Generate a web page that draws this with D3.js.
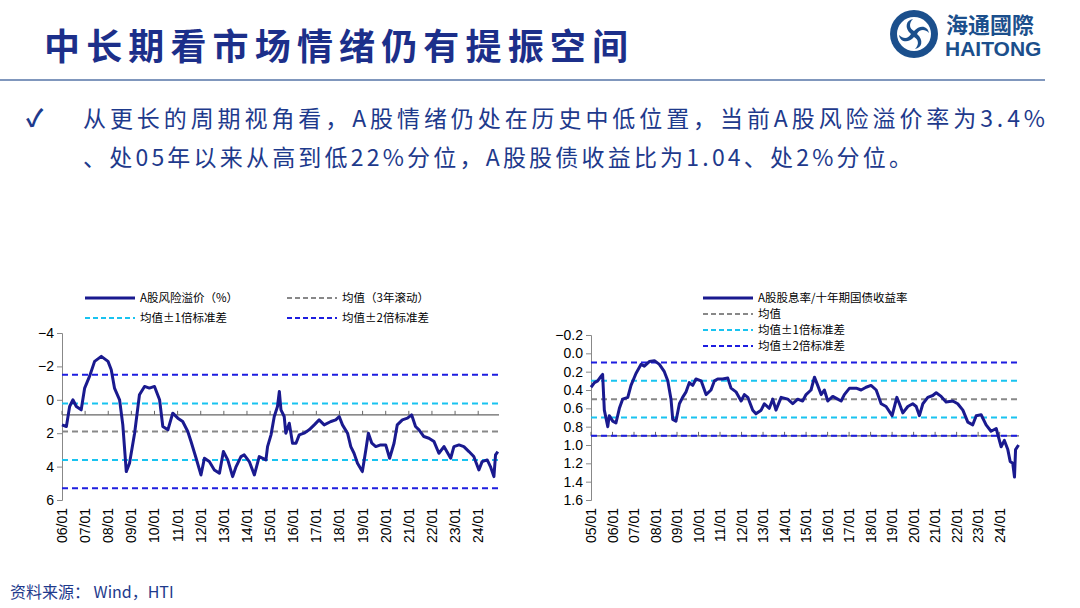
<!DOCTYPE html>
<html><head><meta charset="utf-8">
<script src="https://cdn.jsdelivr.net/npm/d3@7"></script>
<style>body{margin:0;background:#fff;font-family:"Noto Sans CJK SC",sans-serif}</style>
</head><body><svg id="c" width="1080" height="608"></svg>
<script>
const leftYears=[2006.00,2006.19,2006.33,2006.47,2006.62,2006.83,2006.98,2007.19,2007.41,2007.70,2007.99,2008.13,2008.27,2008.49,2008.63,2008.78,2008.92,2009.14,2009.35,2009.57,2009.78,2010.00,2010.22,2010.36,2010.58,2010.79,2011.01,2011.22,2011.44,2011.58,2011.80,2012.01,2012.16,2012.37,2012.59,2012.81,2012.98,2013.17,2013.38,2013.53,2013.74,2013.88,2014.10,2014.32,2014.53,2014.82,2014.89,2015.04,2015.18,2015.32,2015.40,2015.47,2015.61,2015.68,2015.83,2015.97,2016.12,2016.26,2016.47,2016.69,2016.91,2017.12,2017.34,2017.63,2017.84,2017.99,2018.13,2018.35,2018.49,2018.63,2018.78,2018.99,2019.14,2019.25,2019.40,2019.57,2019.78,2020.00,2020.17,2020.36,2020.50,2020.72,2020.94,2021.12,2021.29,2021.44,2021.65,2021.87,2022.09,2022.30,2022.52,2022.81,2022.95,2023.17,2023.38,2023.60,2023.81,2024.03,2024.17,2024.39,2024.53,2024.68,2024.75,2024.85];
const leftValues=[1.5,1.6,0.4,0.0,0.4,0.6,-0.7,-1.4,-2.3,-2.6,-2.3,-1.8,-0.7,0.0,1.5,4.3,3.8,2.0,-0.3,-0.8,-0.7,-0.8,0.0,1.6,1.8,0.8,1.1,1.3,1.9,2.5,3.5,4.5,3.5,3.7,4.2,4.4,3.1,3.6,4.6,4.0,3.4,3.3,3.7,4.5,3.4,3.6,2.8,2.1,1.0,0.4,-0.5,0.6,1.0,2.0,1.4,2.6,2.6,2.1,2.0,1.8,1.5,1.2,1.5,1.3,1.2,1.0,1.5,2.0,2.8,3.2,3.8,4.3,3.0,2.0,2.6,2.8,2.7,2.7,3.5,2.6,1.5,1.2,1.1,0.9,1.6,1.8,2.2,2.3,2.5,3.2,2.8,3.5,2.8,2.7,2.8,3.1,3.4,4.2,3.7,3.6,4.0,4.6,3.3,3.1];
const leftBands={mean:1.9,s1:[0.22,3.6],s2:[-1.5,5.3]};
const leftTicks=["06/01","07/01","08/01","09/01","10/01","11/01","12/01","13/01","14/01","15/01","16/01","17/01","18/01","19/01","20/01","21/01","22/01","23/01","24/01"];
const leftLegend=["A股风险溢价（%）","均值（3年滚动）","均值±1倍标准差","均值±2倍标准差"];

const rightYears=[2005.00,2005.16,2005.31,2005.47,2005.54,2005.62,2005.78,2005.85,2006.01,2006.16,2006.32,2006.47,2006.71,2006.86,2007.09,2007.33,2007.48,2007.71,2007.95,2008.18,2008.41,2008.57,2008.72,2008.80,2008.95,2009.11,2009.26,2009.42,2009.57,2009.73,2009.88,2010.12,2010.35,2010.58,2010.74,2010.89,2011.12,2011.36,2011.51,2011.74,2011.98,2012.13,2012.29,2012.52,2012.67,2012.91,2013.06,2013.29,2013.45,2013.60,2013.84,2014.15,2014.38,2014.61,2014.84,2015.00,2015.23,2015.39,2015.54,2015.70,2015.85,2016.01,2016.24,2016.47,2016.63,2016.78,2017.02,2017.33,2017.56,2017.79,2018.02,2018.26,2018.49,2018.72,2019.00,2019.22,2019.34,2019.50,2019.73,2019.96,2020.12,2020.27,2020.43,2020.66,2020.89,2021.05,2021.28,2021.51,2021.82,2022.05,2022.29,2022.52,2022.75,2022.91,2023.14,2023.37,2023.60,2023.84,2024.07,2024.22,2024.38,2024.49,2024.61,2024.69,2024.74,2024.88];
const rightValues=[0.37,0.32,0.30,0.25,0.23,0.62,0.80,0.68,0.74,0.76,0.60,0.50,0.48,0.35,0.22,0.12,0.14,0.09,0.08,0.12,0.20,0.30,0.50,0.72,0.74,0.55,0.48,0.42,0.32,0.35,0.28,0.30,0.45,0.40,0.30,0.28,0.28,0.27,0.38,0.42,0.52,0.45,0.48,0.62,0.66,0.62,0.55,0.60,0.50,0.62,0.48,0.50,0.55,0.50,0.52,0.45,0.40,0.26,0.35,0.45,0.40,0.52,0.47,0.50,0.52,0.45,0.38,0.38,0.40,0.37,0.35,0.40,0.55,0.58,0.68,0.48,0.55,0.65,0.58,0.55,0.58,0.68,0.55,0.48,0.46,0.43,0.47,0.53,0.52,0.55,0.62,0.75,0.78,0.68,0.67,0.78,0.85,0.82,1.02,0.95,1.05,1.18,1.20,1.35,1.05,1.00];
const rightBands={mean:0.5,s1:[0.3,0.7],s2:[0.1,0.9]};
const rightTicks=["05/01","06/01","07/01","08/01","09/01","10/01","11/01","12/01","13/01","14/01","15/01","16/01","17/01","18/01","19/01","20/01","21/01","22/01","23/01","24/01"];
const rightLegend=["A股股息率/十年期国债收益率","均值","均值±1倍标准差","均值±2倍标准差"];

const svg=d3.select("#c");
const txt="#1e3a8c";
svg.append("text").attr("x",44).attr("y",60).attr("font-size",36).attr("font-weight",700).attr("fill","#1c2f8a").attr("textLength",584).attr("lengthAdjust","spacing").text("中长期看市场情绪仍有提振空间");
svg.append("line").attr("x1",0).attr("x2",1045).attr("y1",80).attr("y2",80).attr("stroke","#8097bd").attr("stroke-width",2);
const lg=svg.append("g").attr("transform","translate(914,34)");
lg.append("circle").attr("r",24).attr("fill","#1b4f8c");
lg.append("circle").attr("r",17).attr("fill","#fff");
[0,90,180,270].forEach(a=>lg.append("path").attr("d","M0,-3 C6,-10 14,-8 15,-1 C10,-6 5,-4 3,0 Z").attr("fill","#1b4f8c").attr("transform",`rotate(${a})`));
lg.append("rect").attr("x",-3).attr("y",-3).attr("width",6).attr("height",6).attr("fill","#1b4f8c");
svg.append("text").attr("x",946).attr("y",33).attr("font-size",22).attr("font-weight",700).attr("fill","#1b4f8c").text("海通國際");
svg.append("text").attr("x",945).attr("y",56).attr("font-size",21).attr("font-weight",700).attr("fill","#1b4f8c").attr("font-family","Liberation Sans, Arial").text("HAITONG");
svg.append("text").attr("x",26).attr("y",127).attr("font-size",24).attr("font-weight",700).attr("fill",txt).text("✓");
svg.append("text").attr("x",83).attr("y",127).attr("font-size",23).attr("fill",txt).attr("textLength",962).attr("lengthAdjust","spacing").text("从更长的周期视角看，A股情绪仍处在历史中低位置，当前A股风险溢价率为3.4%");
svg.append("text").attr("x",83).attr("y",166).attr("font-size",23).attr("fill",txt).attr("textLength",829).attr("lengthAdjust","spacing").text("、处05年以来从高到低22%分位，A股股债收益比为1.04、处2%分位。");
svg.append("text").attr("x",10).attr("y",598).attr("font-size",16).attr("fill",txt).text("资料来源： Wind，HTI");

function chart(o){
  const x=d3.scaleLinear().domain(o.xd).range(o.xr);
  const y=d3.scaleLinear().domain(o.yd).range(o.yr);
  const g=svg.append("g");
  const ya=g.append("g").attr("transform",`translate(${o.xr[0]},0)`).call(d3.axisLeft(y).tickValues(o.yTicks).tickFormat(o.fmt).tickSize(5));
  ya.select(".domain").attr("stroke","#888");
  ya.selectAll(".tick line").attr("stroke","#888");
  ya.selectAll("text").attr("font-size",14).attr("fill","#000").attr("font-family","Liberation Sans, Arial");
  const ty=y(o.cross);
  g.append("line").attr("x1",o.xr[0]).attr("x2",o.xr[1]).attr("y1",ty).attr("y2",ty).attr("stroke","#666").attr("stroke-width",1.2);
  o.ticks.forEach((t,i)=>{
    const xx=x(o.xd[0]+i);
    g.append("line").attr("x1",xx).attr("x2",xx).attr("y1",ty-4).attr("y2",ty).attr("stroke","#666");
    g.append("text").attr("transform",`translate(${xx+5},${o.labY}) rotate(-90)`).attr("text-anchor","end").attr("font-size",14).attr("font-family","Liberation Sans, Arial").text(t);
  });
  const hl=(v,c)=>g.append("line").attr("x1",o.xr[0]).attr("x2",o.xr[1]).attr("y1",y(v)).attr("y2",y(v)).attr("stroke",c).attr("stroke-width",2).attr("stroke-dasharray","6,4");
  hl(o.b.mean,"#888");
  o.b.s1.forEach(v=>hl(v,"#19c3f0"));
  o.b.s2.forEach(v=>hl(v,"#1d1de0"));
  g.append("path").datum(o.ys.map((d,i)=>[d,o.vs[i]])).attr("fill","none").attr("stroke","#1a1a8f").attr("stroke-width",3).attr("stroke-linejoin","round")
   .attr("d",d3.line().x(d=>x(d[0])).y(d=>y(d[1])));
  const styles=[["#1a1a8f",null,3],["#888","5,3",2],["#19c3f0","5,3",2],["#1d1de0","5,3",2]];
  o.leg.forEach((t,i)=>{
    const p=o.legPos[i];
    g.append("line").attr("x1",p[0]).attr("x2",p[0]+o.legW).attr("y1",p[1]).attr("y2",p[1]).attr("stroke",styles[i][0]).attr("stroke-width",styles[i][2]).attr("stroke-dasharray",styles[i][1]);
    g.append("text").attr("x",p[0]+o.legW+5).attr("y",p[1]+4).attr("font-size",11.5).text(t);
  });
}
chart({xd:[2006,2024.9],xr:[62,499],yd:[-4,6],yr:[333,500],yTicks:[-4,-2,0,2,4,6],fmt:d3.format("d"),cross:0.9,b:leftBands,ys:leftYears,vs:leftValues,ticks:leftTicks,labY:508,leg:leftLegend,legW:50,legPos:[[85,298],[287,298],[85,318],[287,318]]});
chart({xd:[2005,2024.9],xr:[591,1019],yd:[-0.2,1.6],yr:[335,500],yTicks:[-0.2,0,0.2,0.4,0.6,0.8,1.0,1.2,1.4,1.6],fmt:d3.format(".1f"),cross:0.9,b:rightBands,ys:rightYears,vs:rightValues,ticks:rightTicks,labY:508,leg:rightLegend,legW:50,legPos:[[703,298],[703,314],[703,330],[703,346]]});
</script></body></html>
